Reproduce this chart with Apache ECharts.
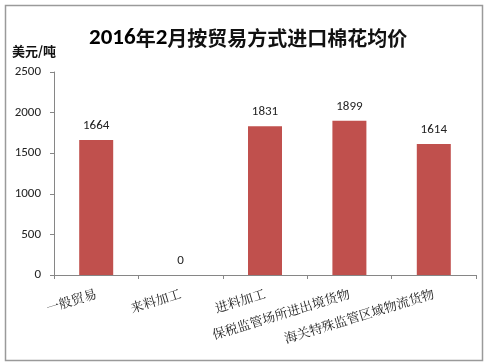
<!DOCTYPE html>
<html><head><meta charset="utf-8">
<script src="https://cdn.jsdelivr.net/npm/echarts@6/dist/echarts.min.js"></script>
<style>html,body{margin:0;padding:0;background:#fff}#c{width:484px;height:363px}</style>
</head><body><div id="c"></div>
<script>
const categories = ['一般贸易','来料加工','进料加工','保税监管场所进出境货物','海关特殊监管区域物流货物'];
const values = [1664, 0, 1831, 1899, 1614];
const yTicks = [0, 500, 1000, 1500, 2000, 2500];
const titleParts = ['2016', '年', '2', '月按贸易方式进口棉花均价'];

const chart = echarts.init(document.getElementById('c'));
chart.setOption({
  animation: false,
  backgroundColor: '#fff',
  title: {
    text: `{d|${titleParts[0]}}{c|${titleParts[1]}}{d|${titleParts[2]}}{c|${titleParts[3]}}`,
    left: 84, top: 22,
    textStyle: {
      rich: {
        d: {fontFamily: 'Carlito, "Liberation Sans", sans-serif', fontSize: 23, fontWeight: 'bold', color: '#000'},
        c: {fontFamily: '"Noto Sans CJK SC"', fontSize: 20, fontWeight: 'bold', color: '#111'}
      }
    }
  },
  graphic: [{type: 'rect', left: 3, top: 3, shape: {width: 477, height: 355}, style: {fill: 'none', stroke: '#9a9a9a', lineWidth: 1.5}, silent: true}],
  grid: {left: 54, right: 8, top: 72, bottom: 88},
  xAxis: {
    type: 'category', data: categories,
    axisLine: {lineStyle: {color: '#868686'}},
    axisTick: {show: true, alignWithLabel: false, length: 4, lineStyle: {color: '#868686'}},
    axisLabel: {rotate: 17, interval: 0, fontFamily: '"Noto Serif CJK SC", "Noto Sans CJK SC", serif', fontSize: 13, color: '#222', margin: 18}
  },
  yAxis: {
    type: 'value', min: yTicks[0], max: yTicks[yTicks.length-1], interval: 500,
    name: '美元/吨', nameLocation: 'end', nameGap: 14,
    nameTextStyle: {fontFamily: '"Noto Sans CJK SC"', fontSize: 13, fontWeight: 'bold', color: '#111', align: 'left', padding: [0,0,0,-42]},
    axisLine: {show: true, lineStyle: {color: '#868686'}},
    axisTick: {show: true, length: 4, lineStyle: {color: '#868686'}},
    splitLine: {show: false},
    axisLabel: {formatter: v => String(v), fontFamily: 'Carlito, "Liberation Sans", sans-serif', fontSize: 13, color: '#222', margin: 13}
  },
  series: [{
    type: 'bar', data: values, barWidth: 34,
    itemStyle: {color: '#C0504D'},
    label: {show: true, position: 'top', distance: 8, fontFamily: 'Carlito, "Liberation Sans", sans-serif', fontSize: 13, color: '#222'}
  }]
});
</script></body></html>
